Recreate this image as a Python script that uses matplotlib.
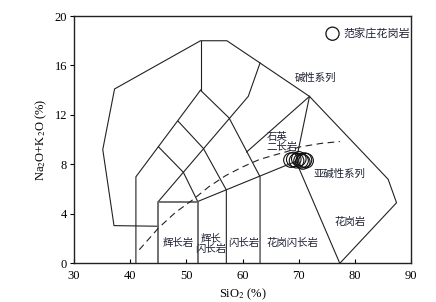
import matplotlib
matplotlib.use("Agg")
import matplotlib.pyplot as plt

plt.rcParams["mathtext.fontset"] = "stix"

# 范家庄花岗岩 samples (SiO2 %, Na2O+K2O %)
sample_sio2 = [68.6, 69.1, 69.6, 70.0, 70.4, 70.7, 71.0, 71.3]
sample_alk = [8.35, 8.40, 8.30, 8.45, 8.30, 8.20, 8.35, 8.30]

# field boundaries (SiO2, Na2O+K2O)
outer_x = [45.0, 37.1, 35.1, 37.2, 52.5, 57.2, 63.1, 71.9, 85.9, 87.4, 77.3]
outer_y = [3.0, 3.05, 9.2, 14.1, 18.0, 18.0, 16.2, 13.5, 6.8, 4.9, 0.0]

field_lines = [
    ([41.0, 41.0, 52.5], [0.0, 7.0, 14.0]),
    ([52.5, 52.5], [14.0, 18.0]),
    ([45.0, 61.0, 63.1], [5.0, 13.5, 16.2]),
    ([52.0, 69.5], [5.0, 8.25]),
    ([60.7, 71.9], [9.0, 13.5]),
    ([71.9, 69.5, 77.3], [13.5, 8.25, 0.0]),
    ([52.5, 57.6, 63.1, 63.1], [14.0, 11.75, 7.0, 0.0]),
    ([48.5, 53.0, 57.1, 57.1], [11.5, 9.3, 5.93, 0.0]),
    ([45.0, 49.45, 52.0], [9.43, 7.36, 5.0]),
]
box_x = [45.0, 45.0, 52.0, 52.0]
box_y = [0.0, 5.0, 5.0, 0.0]

# Irvine & Baragar alkaline / subalkaline divide
irvine_x = [41.6, 45.0, 48.0, 51.0, 54.0, 57.0, 60.0, 63.0, 66.0, 68.0, 70.0, 74.0, 77.3]
irvine_y = [1.1, 2.85, 4.1, 5.1, 6.2, 7.1, 7.8, 8.4, 8.8, 9.05, 9.4, 9.7, 9.85]

field_names = ["辉长岩", "辉长\n闪长岩", "闪长岩", "花岗闪长岩", "花岗岩",
               "石英\n二长岩", "碱性系列", "亚碱性系列"]
name_x = [48.6, 54.4, 60.2, 68.9, 79.1, 64.3, 73.0, 77.2]
name_y = [1.62, 1.55, 1.62, 1.67, 3.37, 9.8, 14.96, 7.2]
name_ha = ["center", "center", "center", "center", "center", "left", "center", "center"]

cjk = ["Noto Sans CJK SC", "DejaVu Sans"]
serif = "Liberation Serif"
text_color = "#1e2133"
line_color = "#222222"

fig = plt.figure(figsize=(4.36, 3.02), dpi=100)
ax = fig.add_axes([0.170, 0.128, 0.773, 0.819])

ax.plot(outer_x, outer_y, color=line_color, lw=0.8)
for xs, ys in field_lines:
    ax.plot(xs, ys, color=line_color, lw=0.8)
ax.plot(box_x, box_y, color="#666666", lw=1.3)
ax.plot(irvine_x, irvine_y, color=line_color, lw=0.8, ls=(0, (6, 4)))

ax.scatter(sample_sio2, sample_alk, s=110, facecolors="none",
           edgecolors="#111111", linewidths=0.8, zorder=3)

for name, x, y, ha in zip(field_names, name_x, name_y, name_ha):
    ax.text(x, y, name, ha=ha, va="center", fontsize=7.5, family=cjk,
            color=text_color, linespacing=1.0)

# legend
ax.scatter([76.0], [18.57], s=90, facecolors="none", edgecolors="#111111", linewidths=0.9)
ax.text(77.9, 18.57, "范家庄花岗岩", ha="left", va="center", fontsize=8,
        family=cjk, color=text_color)

ax.set_xlim(30, 90)
ax.set_ylim(0, 20)
ax.set_xticks([30, 40, 50, 60, 70, 80, 90])
ax.set_yticks([0, 4, 8, 12, 16, 20])
ax.tick_params(axis="x", direction="in", length=3, width=0.8, labelsize=9, pad=5)
ax.tick_params(axis="y", direction="out", length=3, width=0.8, labelsize=9, pad=2)
for lab in ax.get_xticklabels() + ax.get_yticklabels():
    lab.set_family(serif)
for s in ax.spines.values():
    s.set_linewidth(1.0)
    s.set_color("#222222")

ax.set_xlabel("SiO$_2$ (%)", family=serif, fontsize=9, labelpad=3)
ax.set_ylabel("Na$_2$O+K$_2$O (%)", family=serif, fontsize=9, labelpad=4)

fig.savefig("out.png", dpi=100)
